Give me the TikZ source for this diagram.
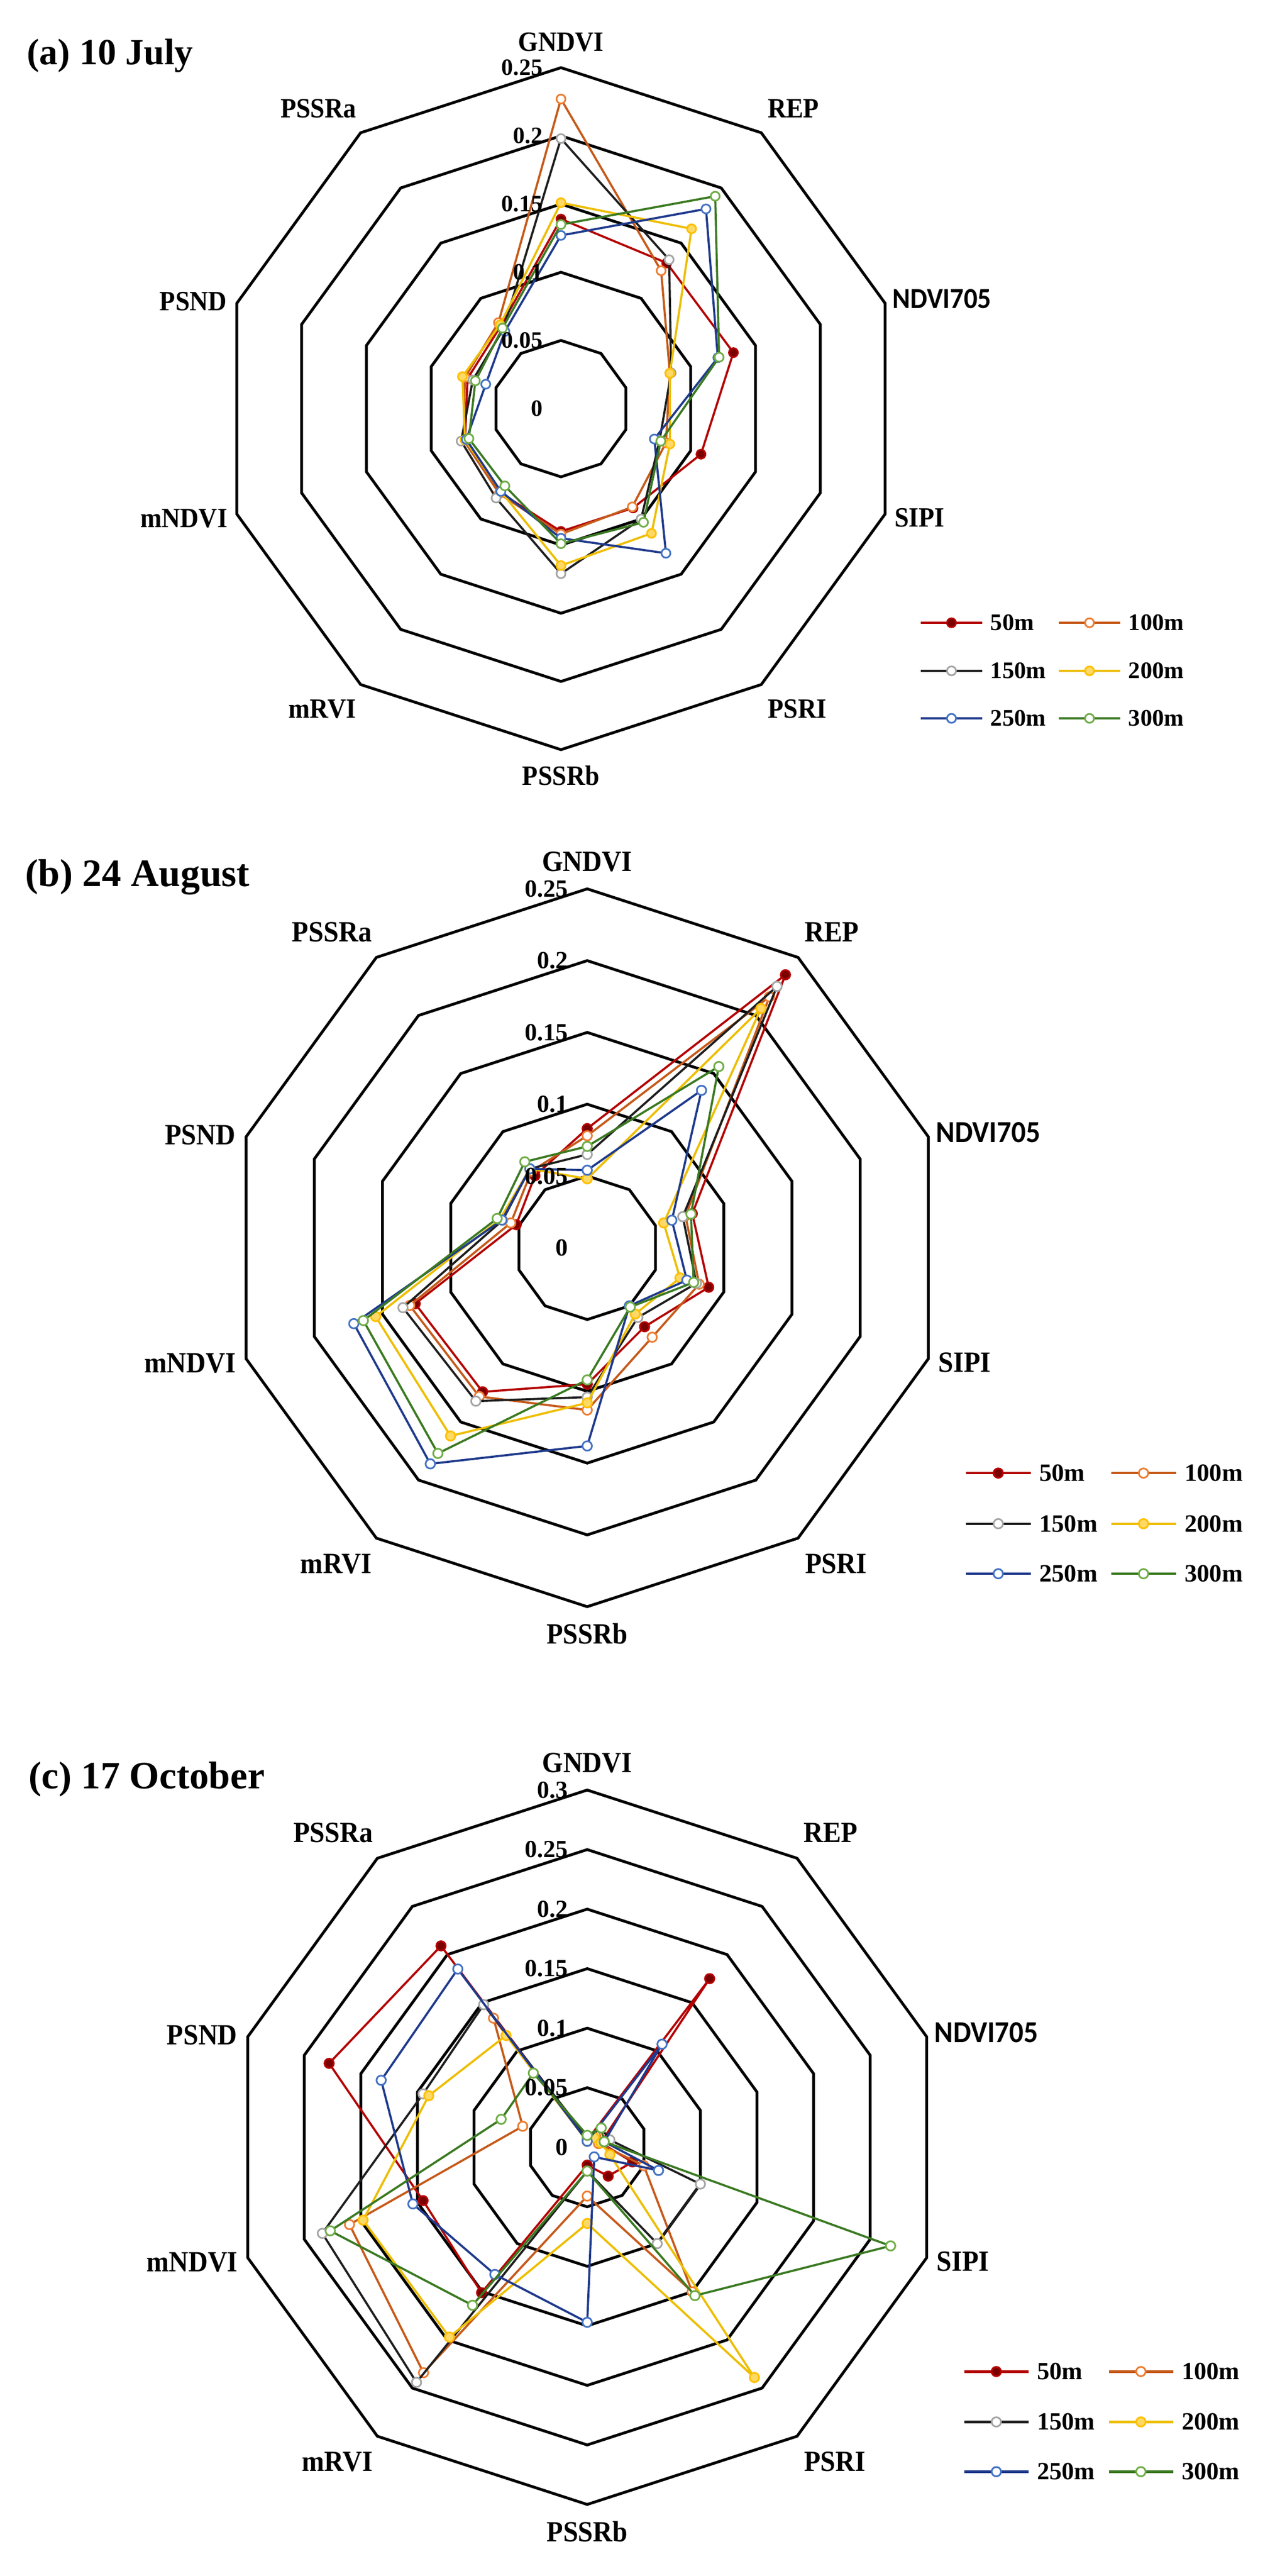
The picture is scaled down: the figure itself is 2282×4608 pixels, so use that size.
\documentclass[tikz,border=0pt]{standalone}
\usepackage{fontspec}
\setmainfont{Liberation Serif}
\newfontfamily\carlfont{Carlito}
\usepackage{graphicx}
\definecolor{k50}{HTML}{B40000}
\definecolor{f50}{HTML}{7A0000}
\definecolor{k100}{HTML}{C65A1A}
\definecolor{f100}{HTML}{ED7D31}
\definecolor{k150}{HTML}{1E1E1E}
\definecolor{f150}{HTML}{A5A5A5}
\definecolor{k200}{HTML}{EDBE00}
\definecolor{f200}{HTML}{FFC000}
\definecolor{k250}{HTML}{1F3A8C}
\definecolor{f250}{HTML}{4472C4}
\definecolor{k300}{HTML}{3B7A22}
\definecolor{f300}{HTML}{70AD47}
\tikzset{
  ring/.style={line width=1.25pt, black, line join=miter},
  serline/.style={line width=0.95pt, line join=round},
  legline/.style={line width=1.1pt},
  mk/.style={circle, inner sep=0pt, minimum size=4pt, line width=0.75pt},
  mk50/.style={draw=k50, fill=f50},
  mk100/.style={draw=f100, fill=white},
  mk150/.style={draw=f150, fill=white},
  mk200/.style={draw=f200, fill=f200!60},
  mk250/.style={draw=f250, fill=white},
  mk300/.style={draw=f300, fill=white},
  lab/.style={font=\fontsize{12.5}{14}\selectfont\bfseries, inner sep=0pt},
  labs/.style={font=\fontsize{13}{14}\selectfont\bfseries\carlfont, inner sep=0pt},
  val/.style={font=\fontsize{10.5}{12}\selectfont\bfseries, inner sep=0pt},
  legtxt/.style={font=\fontsize{10.6}{12}\selectfont\bfseries, inner sep=0pt},
  ttl/.style={font=\fontsize{16.5}{18}\selectfont\bfseries, inner sep=0pt},
}
\newcommand\lbl[1]{\scalebox{0.92}[1]{#1}}
\newcommand\ringset[1]{%
  \foreach \i in {1,...,#1}{%
    \pgfmathsetmacro\rr{610*\i/#1}
    \draw[ring] (90:\rr) -- (54:\rr) -- (18:\rr) -- (-18:\rr) -- (-54:\rr) -- (-90:\rr)
      -- (-126:\rr) -- (-162:\rr) -- (162:\rr) -- (126:\rr) -- cycle;
  }}
\newcommand\series[4]{%
  \foreach \v [count=\k from 0] in {#4}{%
    \pgfmathsetmacro\rr{\v/\vmax*610}
    \coordinate (#1p\k) at ({90-36*\k}:\rr);
  }
  \draw[serline,#2] (#1p0)--(#1p1)--(#1p2)--(#1p3)--(#1p4)--(#1p5)--(#1p6)--(#1p7)--(#1p8)--(#1p9)--cycle;
  \foreach \k in {0,...,9}{\node[mk,#3] (#1m\k) at (#1p\k) {};}
}
\newcommand\legitem[6]{%
  \coordinate (#1a) at (#2,#3);
  \coordinate (#1b) at ({#2+110},#3);
  \draw[legline,#4] (#1a) -- (#1b);
  \node[mk,#5] (#1m) at ({#2+55},#3) {};
  \node[legtxt,anchor=west] (#1t) at ({#2+124},#3) {#6};
}
\newcommand\axislabels[1]{%
  \node[lab] (#1gndvi) at (0,656) {\lbl{GNDVI}};
  \node[lab] (#1rep) at (416,537) {\lbl{REP}};
  \node[labs] (#1ndvi) at (682,196) {\scalebox{0.93}[1]{NDVI705}};
  \node[lab] (#1sipi) at (642,-195) {\lbl{SIPI}};
  \node[lab] (#1psri) at (423,-537) {\lbl{PSRI}};
  \node[lab] (#1pssrb) at (0,-656) {\lbl{PSSRb}};
  \node[lab] (#1mrvi) at (-427,-537) {\lbl{mRVI}};
  \node[lab] (#1mndvi) at (-675,-196) {\lbl{mNDVI}};
  \node[lab] (#1psnd) at (-658,192) {\lbl{PSND}};
  \node[lab] (#1pssra) at (-434,537) {\lbl{PSSRa}};
}
\newcommand\legendset[1]{%
  \legitem{#1l1}{644}{-383}{k50}{mk50}{50m}
  \legitem{#1l2}{891}{-383}{k100}{mk100}{100m}
  \legitem{#1l3}{644}{-469}{k150}{mk150}{150m}
  \legitem{#1l4}{891}{-469}{k200}{mk200}{200m}
  \legitem{#1l5}{644}{-554}{k250}{mk250}{250m}
  \legitem{#1l6}{891}{-554}{k300}{mk300}{300m}
}
\begin{document}
\begin{tikzpicture}[x=0.25pt,y=0.25pt]
\fill[white] (0,0) rectangle (2282,-4608);
\useasboundingbox (0,0) rectangle (2282,-4608);

% ---------------- (a) ----------------
\begin{scope}[shift={(1004,-731)}, scale=1, transform shape]
  \ringset{5}
  \def\vmax{0.25}
  \series{a50}{k50}{mk50}{0.139,0.132,0.133,0.108,0.090,0.090,0.076,0.074,0.072,0.075}
  \series{a100}{k100}{mk100}{0.227,0.125,0.084,0.081,0.089,0.092,0.077,0.075,0.074,0.078}
  \series{a150}{k150}{mk150}{0.198,0.135,0.085,0.076,0.100,0.121,0.081,0.077,0.068,0.072}
  \series{a200}{k200}{mk200}{0.151,0.163,0.084,0.084,0.113,0.115,0.075,0.074,0.076,0.076}
  \series{a250}{k250}{mk250}{0.127,0.181,0.121,0.072,0.131,0.095,0.075,0.073,0.058,0.070}
  \series{a300}{k300}{mk300}{0.135,0.1925,0.122,0.077,0.103,0.099,0.070,0.071,0.066,0.073}
  \foreach \t [count=\i from 0] in {0,0.05,0.1,0.15,0.2,0.25}{%
    \node[val,anchor=east] (av\i) at (-32,{122*\i}) {\t};}
  \axislabels{a}
  \legendset{a}
  \node[ttl,anchor=base west] (atitle) at (-956,616) {(a) 10 July};
\end{scope}

% ---------------- (b) ----------------
\begin{scope}[shift={(1051,-2232)}, scale=1.0525, transform shape]
  \ringset{5}
  \def\vmax{0.25}
  \series{b50}{k50}{mk50}{0.083,0.235,0.077,0.089,0.068,0.095,0.124,0.126,0.052,0.062}
  \series{b100}{k100}{mk100}{0.078,0.216,0.072,0.082,0.077,0.113,0.128,0.130,0.056,0.066}
  \series{b150}{k150}{mk150}{0.065,0.225,0.070,0.080,0.060,0.104,0.132,0.135,0.062,0.068}
  \series{b200}{k200}{mk200}{0.048,0.206,0.056,0.068,0.057,0.108,0.162,0.155,0.064,0.068}
  \series{b250}{k250}{mk250}{0.054,0.1355,0.062,0.073,0.050,0.138,0.186,0.171,0.0625,0.068}
  \series{b300}{k300}{mk300}{0.0706,0.156,0.076,0.078,0.051,0.092,0.177,0.164,0.066,0.074}
  \foreach \t [count=\i from 0] in {0,0.05,0.1,0.15,0.2,0.25}{%
    \node[val,anchor=east] (bv\i) at (-32,{122*\i}) {\t};}
  \axislabels{b}
  \legendset{b}
  \node[ttl,anchor=base west] (btitle) at (-956,614) {(b) 24 August};
\end{scope}

% ---------------- (c) ----------------
\begin{scope}[shift={(1051,-3841)}, scale=1.0475, transform shape]
  \ringset{6}
  \def\vmax{0.3}
  \series{c50}{k50}{mk50}{0.006,0.175,0.012,0.040,0.030,0.015,0.151,0.145,0.228,0.209}
  \series{c100}{k100}{mk100}{0.005,0.012,0.010,0.050,0.150,0.041,0.234,0.210,0.057,0.134}
  \series{c150}{k150}{mk150}{0.008,0.020,0.020,0.100,0.100,0.020,0.244,0.234,0.145,0.148}
  \series{c200}{k200}{mk200}{0.005,0.010,0.012,0.020,0.239,0.064,0.197,0.198,0.140,0.116}
  \series{c250}{k250}{mk250}{0.005,0.107,0.015,0.063,0.010,0.147,0.132,0.154,0.182,0.185}
  \series{c300}{k300}{mk300}{0.010,0.020,0.015,0.268,0.154,0.020,0.164,0.227,0.076,0.077}
  \foreach \t [count=\i from 0] in {0,0.05,0.1,0.15,0.2,0.25,0.3}{%
    \node[val,anchor=east] (cv\i) at (-32,{101.667*\i}) {\t};}
  \axislabels{c}
  \legendset{c}
  \node[ttl,anchor=base west] (ctitle) at (-955,612) {(c) 17 October};
\end{scope}
\end{tikzpicture}
\end{document}
